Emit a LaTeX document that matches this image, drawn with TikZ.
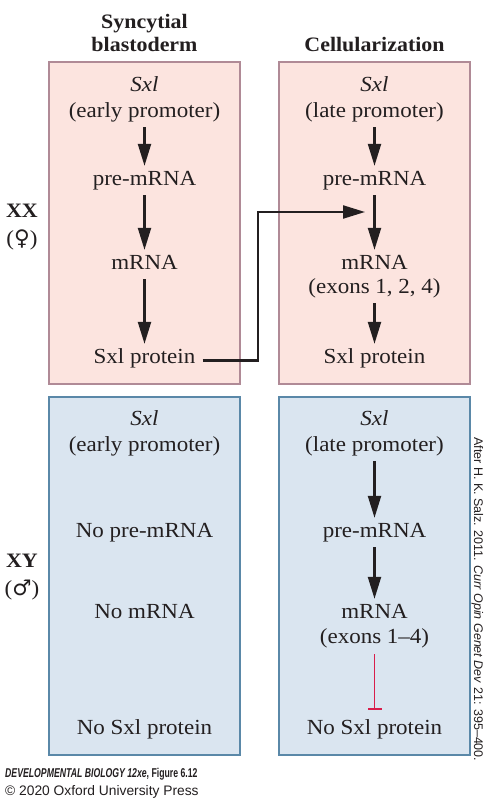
\documentclass[tikz,border=0pt]{standalone}
\usepackage{fontspec}
\setmainfont[FakeStretch=1.07]{Liberation Serif}
\newfontfamily\symfont{DejaVu Sans}
\newfontfamily\capfont[FakeStretch=0.68]{Liberation Sans}
\newfontfamily\notefont{Liberation Sans}
\usetikzlibrary{arrows.meta}
\definecolor{pinkfill}{HTML}{FCE4DF}
\definecolor{pinkline}{HTML}{B08A96}
\definecolor{bluefill}{HTML}{DAE5F0}
\definecolor{blueline}{HTML}{5A88A8}
\definecolor{inhib}{HTML}{D81E4B}
\definecolor{ink}{HTML}{231F20}
\begin{document}
\begin{tikzpicture}[x=1pt,y=-1pt,
  txt/.style={inner sep=0pt, anchor=base, text=ink, font=\fontsize{21.5}{25}\selectfont, text height=14pt, text depth=5pt},
  hdr/.style={inner sep=0pt, anchor=base, text=ink, font=\bfseries\fontsize{20.5}{24}\selectfont},
  pinkbox/.style={draw=pinkline, fill=pinkfill, line width=1.5pt},
  bluebox/.style={draw=blueline, fill=bluefill, line width=1.5pt},
  arr/.style={draw=ink, line width=2.2pt, -{Triangle[length=22pt,width=13pt]}, shorten <=5pt, shorten >=5pt},
  tbar/.style={draw=inhib, line width=1.5pt, -{Bar[width=14pt]}, shorten <=6pt, shorten >=10pt}
]
\fill[white] (0,0) rectangle (489,800);
\useasboundingbox (0,0) rectangle (489,800);

% panels
\draw[pinkbox] (49,62) rectangle (240,384);
\draw[pinkbox] (279,62) rectangle (470,384);
\draw[bluebox] (49,397) rectangle (240,755);
\draw[bluebox] (279,397) rectangle (470,755);

% headers
\node[hdr] (h1) at (144.5,29) {Syncytial};
\node[hdr] (h2) at (144.5,52) {blastoderm};
\node[hdr] (h3) at (374.5,52) {Cellularization};

% side labels
\node[hdr] (xx) at (22,217) {XX};
\node[txt] (fem) at (22,245) {(\symfont ♀\normalfont)};
\node[hdr] (xy) at (22,567) {XY};
\node[txt] (mal) at (22,595) {(\symfont ♂\normalfont)};

% XX, syncytial blastoderm
\node[txt] (a1) at (144.5,91) {\itshape Sxl};
\node[txt] (a2) at (144.5,117) {(early promoter)};
\node[txt] (a3) at (144.5,185) {pre-mRNA};
\node[txt] (a4) at (144.5,269) {mRNA};
\node[txt] (a5) at (144.5,363) {Sxl protein};
\draw[arr] (a2) -- (a3);
\draw[arr] (a3) -- (a4);
\draw[arr] (a4) -- (a5);

% XX, cellularization
\node[txt] (b1) at (374.5,91) {\itshape Sxl};
\node[txt] (b2) at (374.5,117) {(late promoter)};
\node[txt] (b3) at (374.5,185) {pre-mRNA};
\node[txt] (b4) at (374.5,269) {mRNA};
\node[txt] (b5) at (374.5,293) {(exons 1, 2, 4)};
\node[txt] (b6) at (374.5,363) {Sxl protein};
\draw[arr] (b2) -- (b3);
\draw[arr] (b3) -- (b4);
\draw[arr] (b5) -- (b6);

% protein feeds splicing
\coordinate (bend) at (258,212);
\coordinate (join) at (365,212);
\draw[arr, shorten <=7pt, shorten >=0pt] ([yshift=-2pt]a5.east) -| (bend) -- (join);

% XY, syncytial blastoderm
\node[txt] (c1) at (144.5,425) {\itshape Sxl};
\node[txt] (c2) at (144.5,451) {(early promoter)};
\node[txt] (c3) at (144.5,537) {No pre-mRNA};
\node[txt] (c4) at (144.5,618) {No mRNA};
\node[txt] (c5) at (144.5,734) {No Sxl protein};

% XY, cellularization
\node[txt] (d1) at (374.5,425) {\itshape Sxl};
\node[txt] (d2) at (374.5,451) {(late promoter)};
\node[txt] (d3) at (374.5,537) {pre-mRNA};
\node[txt] (d4) at (374.5,618) {mRNA};
\node[txt] (d5) at (374.5,643) {(exons 1–4)};
\node[txt] (d6) at (374.5,734) {No Sxl protein};
\draw[arr] (d2) -- (d3);
\draw[arr] (d3) -- (d4);
\draw[tbar] (d5) -- (d6);

% credit
\node[rotate=-90, anchor=base west, inner sep=0pt, text=ink, font=\notefont\fontsize{12.5}{14}\selectfont] (cr) at (474,437) {After H. K. Salz. 2011. \textit{Curr Opin Genet Dev} 21: 395–400.};

% caption
\node[anchor=base west, inner sep=0pt, text=ink, font=\capfont\bfseries\fontsize{12.8}{15}\selectfont] (cap1) at (5,777) {\itshape DEVELOPMENTAL BIOLOGY 12xe\upshape, Figure 6.12};
\node[anchor=base west, inner sep=0pt, text=ink, font=\notefont\fontsize{13.8}{16}\selectfont] (cap2) at (5,795) {© 2020 Oxford University Press};
\end{tikzpicture}
\end{document}
